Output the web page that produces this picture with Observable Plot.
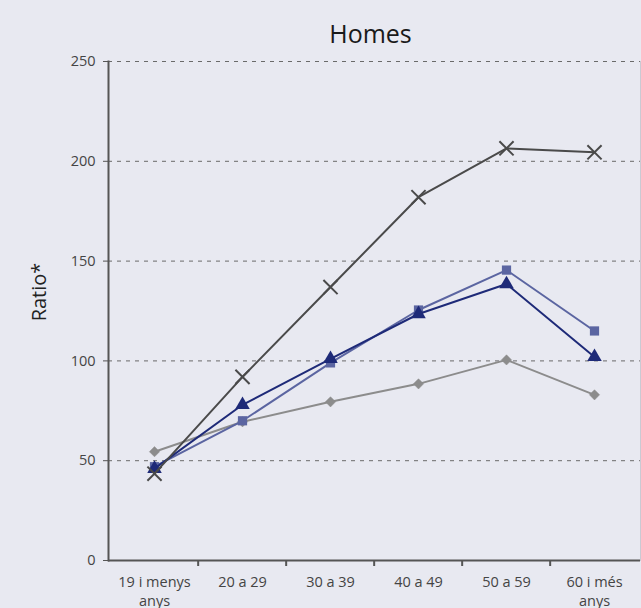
<!DOCTYPE html>
<html>
<head>
<meta charset="utf-8">
<script src="https://cdn.jsdelivr.net/npm/d3@7"></script>
<script src="https://cdn.jsdelivr.net/npm/@observablehq/plot@0.6"></script>
<style>
  html, body { margin: 0; padding: 0; background: #e8e9f1; }
  #chart svg { display: block; }
</style>
</head>
<body>
<div id="chart"></div>
<script>
const title = "Homes";
const yLabel = "Ratio*";
const categories = ["19 i menys\nanys", "20 a 29", "30 a 39", "40 a 49", "50 a 59", "60 i més\nanys"];
const yTicks = [0, 50, 100, 150, 200, 250];
const serieRombe = [54.5, 69.5, 79.5, 88.5, 100.5, 83];
const serieQuadrat = [47, 70, 99, 125.5, 145.5, 115];
const serieTriangle = [46, 78, 101, 123.5, 138.5, 102];
const serieCreu = [43.5, 92, 137, 182, 206.5, 204.5];

const series = [
  {name: "Rombe", values: serieRombe, color: "#8c8c8c", symbol: "diamond2", r: 4.6, filled: true},
  {name: "Quadrat", values: serieQuadrat, color: "#5b65a1", symbol: "square", r: 5.2, filled: true},
  {name: "Triangle", values: serieTriangle, color: "#1e2a78", symbol: "triangle", r: 5.4, filled: true},
  {name: "Creu", values: serieCreu, color: "#4a4a4a", symbol: "times", r: 6.5, filled: false}
];

const font = "'Open Sans', 'Noto Sans', sans-serif";
const width = 641, height = 608;
const mL = 108, mR = 1, mT = 61, mB = 48;
const bw = (width - mL - mR) / categories.length;

const marks = [
  Plot.gridY(yTicks.filter(d => d > 0), {stroke: "#6a6a6a", strokeOpacity: 1, strokeDasharray: "4,5", strokeWidth: 1}),
  Plot.frame({anchor: "right", stroke: "#c9cad3", strokeWidth: 1}),
  Plot.axisY(yTicks, {tickSize: 5, tickPadding: 8, fontSize: 14.5, fill: "#444", stroke: "#555", label: null, fontFamily: font}),
  Plot.frame({anchor: "left", stroke: "#555", strokeWidth: 2}),
  Plot.ruleY([0], {stroke: "#555", strokeWidth: 2}),
  Plot.ruleX(categories.slice(1), {y1: 0, y2: 0, insetBottom: -6, dx: -bw / 2, stroke: "#555", strokeWidth: 2}),
  Plot.text(categories, {x: d => d, frameAnchor: "bottom", dy: 13, lineAnchor: "top", lineHeight: 1.3, fontSize: 14.5, fill: "#444", fontFamily: font}),
  Plot.text([yLabel], {frameAnchor: "left", textAnchor: "middle", dx: -69, dy: -19, rotate: -90, fontSize: 20, fill: "#222", fontFamily: font}),
  Plot.text([title], {frameAnchor: "top", dy: -36, dx: -4, fontSize: 25, fill: "#1a1a1a", fontFamily: font})
];

for (const s of series) {
  const data = categories.map((c, i) => ({x: c, y: s.values[i]}));
  marks.push(Plot.line(data, {x: "x", y: "y", stroke: s.color, strokeWidth: 2}));
  if (s.filled) {
    marks.push(Plot.dot(data, {x: "x", y: "y", symbol: () => s.symbol, r: s.r, fill: s.color, stroke: s.symbol === "diamond2" ? s.color : "none", strokeWidth: s.symbol === "diamond2" ? 0.5 : 0}));
  } else {
    marks.push(Plot.dot(data, {x: "x", y: "y", symbol: () => s.symbol, r: s.r, stroke: s.color, strokeWidth: 2, fill: "none"}));
  }
}

const chart = Plot.plot({
  width, height,
  marginLeft: mL, marginRight: mR, marginTop: mT, marginBottom: mB,
  style: {background: "#e8e9f1", fontFamily: font},
  x: {type: "band", domain: categories, padding: 0, axis: null},
  y: {domain: [0, 250], axis: null},
  symbol: {type: "identity"},
  marks
});
document.getElementById("chart").appendChild(chart);
</script>
</body>
</html>
